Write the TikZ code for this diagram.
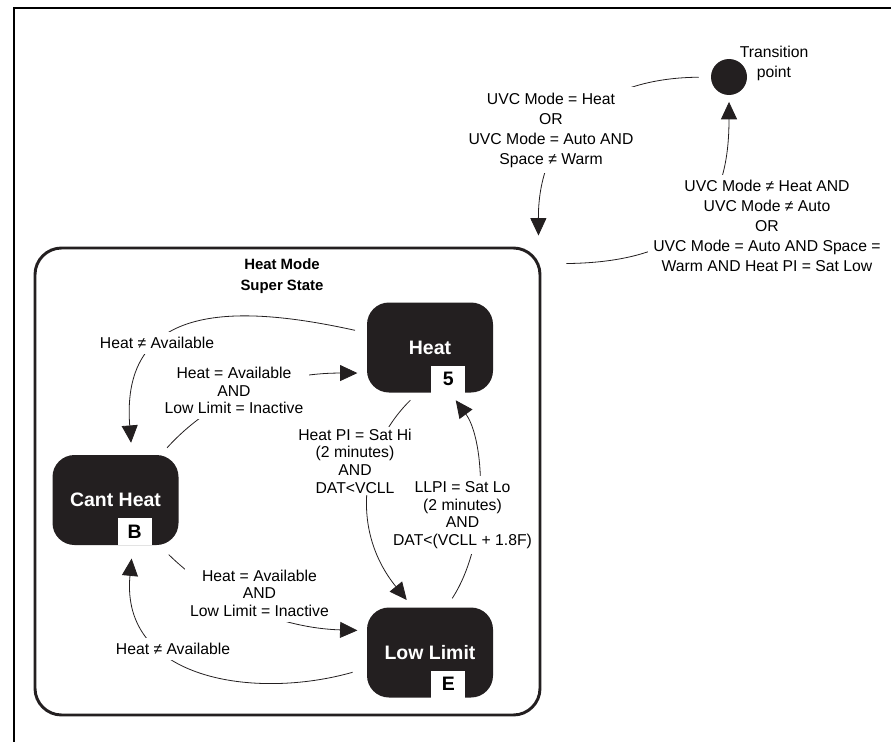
\documentclass[tikz,border=0pt]{standalone}
\usepackage{fontspec}
\setmainfont{Liberation Sans}
\usetikzlibrary{arrows.meta,positioning}
\definecolor{ink}{HTML}{231F20}

\begin{document}
\begin{tikzpicture}
[x=0.75pt,y=-0.75pt,
 state/.style={fill=ink,text=white,rounded corners=16.5pt,minimum width=94.5pt,
    minimum height=67.5pt,inner sep=0pt,font=\bfseries\fontsize{14.6}{17}\selectfont},
 code/.style={fill=white,anchor=south west,minimum width=25.5pt,minimum height=20pt,
    inner sep=0pt,font=\bfseries\fontsize{14.6}{17}\selectfont},
 cond/.style={fill=white,align=center,inner sep=4pt,font=\fontsize{11.8}{13.2}\selectfont},
 outcond/.style={cond,font=\fontsize{11.8}{15}\selectfont},
 arr/.style={draw=ink,line width=0.6pt,-{Triangle[length=13pt,width=12pt]}}]
\useasboundingbox (0,0) rectangle (891,742);
\draw[line width=2pt] (891,8) -- (14,8) -- (14,742);

\node[draw=ink,line width=2.2pt,rounded corners=20pt,minimum width=378.75pt,
    minimum height=350.25pt] (super) at (287.5,481.5) {};
\node[align=center,font=\bfseries\fontsize{11.2}{15.75}\selectfont] (superlbl) at (282,276.5) {Heat Mode\\Super State};

\node[circle,fill=ink,minimum size=27pt,inner sep=0pt] (tp) at (729,77) {};
\node[align=center,font=\fontsize{11.8}{15}\selectfont] (tplbl) at (774,63) {Transition\\point};

\node[state] (heat) at (430,347.5) {Heat};
\node[state] (cant) at (115.5,500) {Cant Heat};
\node[state] (low) at (430,652.5) {Low Limit};
\node[code] (heatcode) at ([xshift=0.75pt]heat.south) {5};
\node[code] (cantcode) at ([xshift=1.5pt]cant.south) {B};
\node[code] (lowcode) at ([xshift=0.75pt]low.south) {E};

\coordinate (superin) at ([shift={(-3,-11)}]super.north east);
\coordinate (superout) at ([shift={(25,17)}]super.north east);

\draw[arr,shorten <=9pt] (tp) .. controls (590,78) and (538,140) .. (superin);
\draw[arr,shorten >=5pt] (superout) .. controls (700,262) and (729,200) .. (tp);
\draw[arr,shorten <=9pt,shorten >=9pt] (heat.167) .. controls (240,305) and (120,300) .. (cant.70);
\draw[arr,shorten <=7pt,shorten >=7pt] (cant.45) .. controls (215,395) and (280,373) .. (heat.202);
\draw[arr,shorten <=8pt,shorten >=7pt] (heat.255) .. controls (360,450) and (350,530) .. (low.111);
\draw[arr,shorten <=8pt,shorten >=7pt] (low.70) .. controls (490,540) and (485,440) .. (heat.294);
\draw[arr,shorten <=10pt,shorten >=7pt] (cant.314) .. controls (215,600) and (280,628) .. (low.161);
\draw[arr,shorten <=11pt,shorten >=10pt] (low.194) .. controls (255,700) and (120,680) .. (cant.291);

\node[outcond] (toheat) at (551,130) {UVC Mode = Heat\\OR\\UVC Mode = Auto AND\\Space ≠ Warm};
\node[outcond] (leaveheat) at (767,226) {UVC Mode ≠ Heat AND\\UVC Mode ≠ Auto\\OR\\UVC Mode = Auto AND Space =\\Warm AND Heat PI = Sat Low};
\node[cond] (heatcant) at (157,343) {Heat ≠ Available};
\node[cond] (cantheat) at (234,390.5) {Heat = Available\\AND\\Low Limit = Inactive};
\node[cond] (lowheat) at (462.5,515) {LLPI = Sat Lo\\(2 minutes)\\AND\\DAT<(VCLL + 1.8F)};
\node[cond,inner sep=1pt] (heatlow) at (355,461) {Heat PI = Sat Hi\\(2 minutes)\\AND\\DAT<VCLL};
\node[cond] (cantlow) at (259.5,593) {Heat = Available\\AND\\Low Limit = Inactive};
\node[cond] (lowcant) at (173,649) {Heat ≠ Available};
\end{tikzpicture}
\end{document}
